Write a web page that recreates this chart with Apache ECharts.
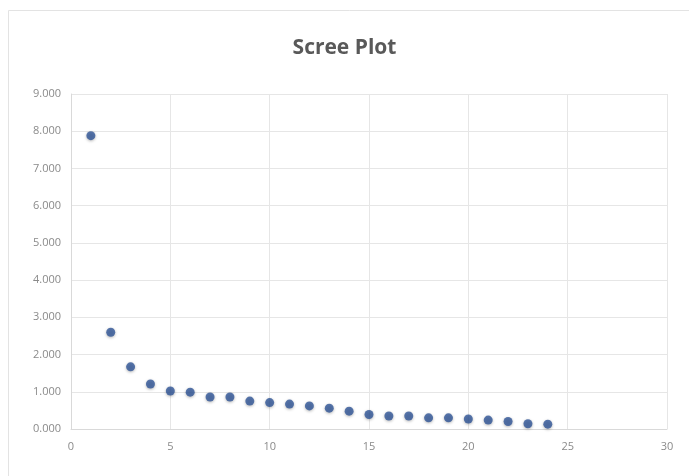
<!DOCTYPE html>
<html><head><meta charset="utf-8">
<script src="https://cdn.jsdelivr.net/npm/echarts@6/dist/echarts.min.js"></script>
<style>html,body{margin:0;padding:0;background:#fff}#c{width:689px;height:476px}</style>
</head><body><div id="c"></div>
<script>
const components = [1,2,3,4,5,6,7,8,9,10,11,12,13,14,15,16,17,18,19,20,21,22,23,24];
const eigenvalues = [7.88,2.60,1.67,1.21,1.02,0.99,0.86,0.86,0.75,0.71,0.67,0.62,0.56,0.48,0.39,0.35,0.35,0.30,0.30,0.27,0.24,0.20,0.14,0.13];
const xTicks = [0,5,10,15,20,25,30];
const yTicks = [0,1,2,3,4,5,6,7,8,9];
const chart = echarts.init(document.getElementById('c'));
chart.setOption({
  animation:false,
  graphic:[{type:'rect',shape:{x:8.5,y:10.5,width:690,height:470},style:{fill:'none',stroke:'#e3e3e3',lineWidth:1},silent:true}],
  title:{text:'Scree Plot',left:'center',top:33,textStyle:{fontFamily:'Open Sans',fontSize:21,fontWeight:'bold',color:'#595959'}},
  grid:{left:71,right:22,top:94,bottom:47},
  xAxis:{type:'value',min:xTicks[0],max:xTicks[xTicks.length-1],interval:5,
    axisLine:{show:true,lineStyle:{color:'#d9d9d9'}},axisTick:{show:false},
    axisLabel:{color:'#8a8a8a',fontFamily:'Open Sans',fontSize:11,margin:12},
    splitLine:{show:true,lineStyle:{color:'#e6e6e6'}}},
  yAxis:{type:'value',min:yTicks[0],max:yTicks[yTicks.length-1],interval:1,
    axisLine:{show:true,lineStyle:{color:'#d9d9d9'}},axisTick:{show:false},
    axisLabel:{color:'#8a8a8a',fontFamily:'Open Sans',fontSize:11,margin:10,formatter:v=>v.toFixed(3)},
    splitLine:{show:true,lineStyle:{color:'#e6e6e6'}}},
  series:[{type:'scatter',data:components.map((c,i)=>[c,eigenvalues[i]]),symbolSize:9,
    itemStyle:{color:'#2f5597',shadowBlur:3,shadowColor:'rgba(0,0,0,0.35)',shadowOffsetY:1}}]
});
</script></body></html>
